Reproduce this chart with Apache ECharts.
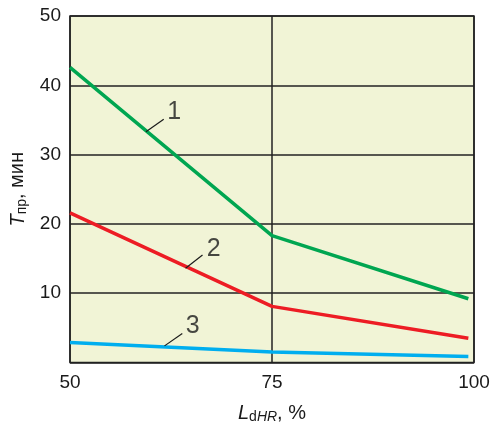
<!DOCTYPE html>
<html><head><meta charset="utf-8">
<script src="https://cdn.jsdelivr.net/npm/echarts@6/dist/echarts.min.js"></script>
<style>html,body{margin:0;padding:0;background:#fff}#c{width:493px;height:423px}</style>
</head><body><div id="c"></div>
<script>
const xTicks = [50, 75, 100];
const curve1X = [50, 75, 99.3];
const curve1Y = [42.6, 18.3, 9.2];
const curve2X = [50, 75, 99.3];
const curve2Y = [21.6, 8.1, 3.5];
const curve3X = [50, 75, 99.3];
const curve3Y = [2.9, 1.5, 0.85];
const labelNames = ['1', '2', '3'];
const leaderStart = [[59.4, 33.3], [64.3, 13.6], [61.7, 2.4]];
const leaderEnd = [[61.6, 35.1], [66.4, 15.5], [63.9, 4.2]];
const labelPos = [[62.9, 36.1], [67.8, 16.4], [65.2, 5.2]];

const zip = (xs, ys) => xs.map((x, i) => [x, ys[i]]);
const font = 'Liberation Sans, Arial, sans-serif';
const colors = ['#00a651', '#ed1c24', '#00aeef'];
const curves = [zip(curve1X, curve1Y), zip(curve2X, curve2Y), zip(curve3X, curve3Y)];

const series = curves.map((d, i) => ({
  type: 'line', data: d, symbol: 'none', silent: true,
  lineStyle: { color: colors[i], width: 3.5 }, z: 5
}));
labelNames.forEach((n, i) => {
  series.push({
    type: 'line', data: [leaderStart[i], leaderEnd[i]], symbol: 'none', silent: true,
    lineStyle: { color: '#1a1a1a', width: 1.2 }, z: 6
  });
});
series.push({
  type: 'scatter', symbolSize: 0, silent: true, z: 7,
  data: labelPos.map((p, i) => ({ value: p, name: labelNames[i] })),
  label: { show: true, position: 'inside', formatter: p => p.name,
    fontFamily: font, fontSize: 25, color: '#1a1a1a' }
});

const chart = echarts.init(document.getElementById('c'));
chart.setOption({
  animation: false,
  grid: { left: 70, right: 19, top: 16, bottom: 60.5, show: true, outerBoundsMode: 'none', containLabel: false,
    backgroundColor: '#f1f4d6', borderColor: '#222', borderWidth: 1.5 },
  xAxis: {
    type: 'value', min: xTicks[0], max: xTicks[xTicks.length - 1], interval: 25,
    axisLine: { show: false }, axisTick: { show: false },
    splitLine: { show: true, lineStyle: { color: '#222', width: 1.5 } },
    axisLabel: { fontFamily: font, fontSize: 19, color: '#1a1a1a', margin: 11 },
    name: '{i|L}{s|d}{si|HR}{n|, %}', nameLocation: 'middle', nameGap: 40,
    nameTextStyle: { rich: {
      i: { fontFamily: font, fontSize: 20, fontStyle: 'italic', color: '#1a1a1a' },
      s: { fontFamily: font, fontSize: 14, color: '#1a1a1a', verticalAlign: 'bottom', padding: [8, 0, 0, 0] },
      si: { fontFamily: font, fontSize: 14, fontStyle: 'italic', color: '#1a1a1a', verticalAlign: 'bottom', padding: [8, 0, 0, 0] },
      n: { fontFamily: font, fontSize: 20, color: '#1a1a1a' }
    } }
  },
  yAxis: {
    type: 'value', min: 0, max: 50, interval: 10,
    axisLine: { show: false }, axisTick: { show: false },
    splitLine: { show: true, lineStyle: { color: '#222', width: 1.5 } },
    axisLabel: { fontFamily: font, fontSize: 19, color: '#1a1a1a', margin: 9,
      formatter: v => v === 0 ? '' : String(v) },
    name: '{i|T}{s|пр}{n|, мин}', nameLocation: 'middle', nameGap: 40,
    nameTextStyle: { rich: {
      i: { fontFamily: font, fontSize: 20, fontStyle: 'italic', color: '#1a1a1a' },
      s: { fontFamily: font, fontSize: 14, color: '#1a1a1a', verticalAlign: 'bottom', padding: [8, 0, 0, 0] },
      n: { fontFamily: font, fontSize: 20, color: '#1a1a1a' }
    } }
  },
  series: series
});
</script></body></html>
